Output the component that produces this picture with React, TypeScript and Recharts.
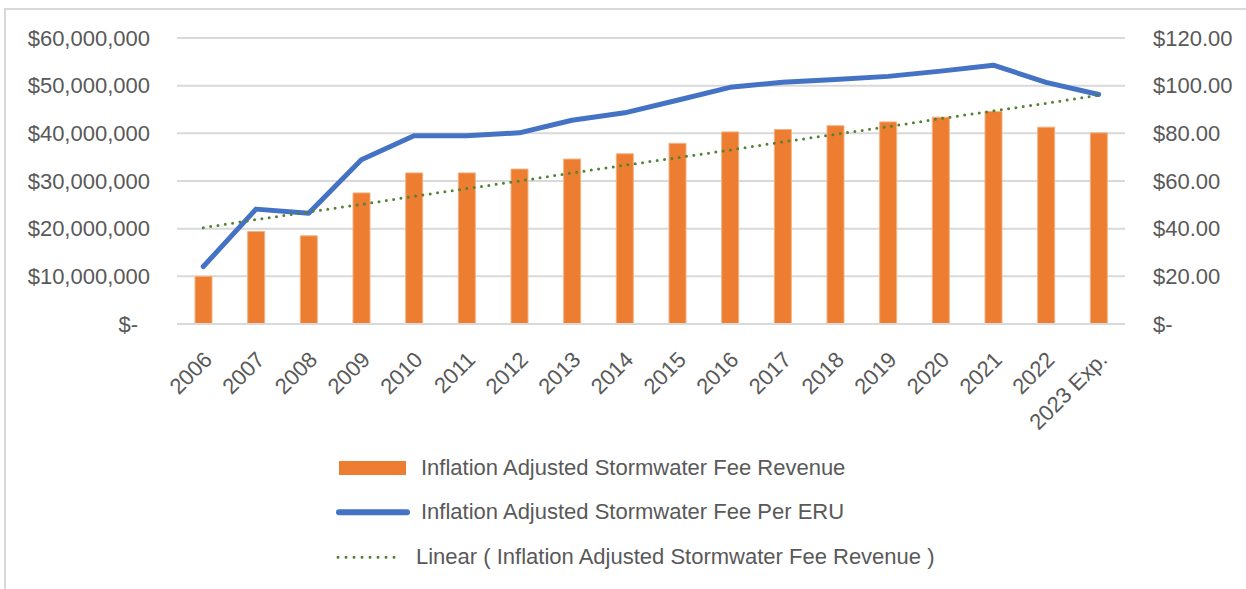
import React from 'react';
import { ComposedChart, Bar, Line, XAxis, YAxis, CartesianGrid, Legend } from 'recharts';

const years = ['2006', '2007', '2008', '2009', '2010', '2011', '2012', '2013', '2014', '2015', '2016', '2017', '2018', '2019', '2020', '2021', '2022', '2023 Exp.'];
const revenue = [10000000, 19400000, 18500000, 27500000, 31700000, 31700000, 32500000, 34600000, 35700000, 37900000, 40300000, 40800000, 41600000, 42400000, 43400000, 44600000, 41300000, 40100000];
const feePerEru = [24.1, 48.2, 46.5, 68.9, 79.0, 79.0, 80.2, 85.5, 88.6, 93.9, 99.3, 101.4, 102.6, 103.9, 106.1, 108.6, 101.4, 96.3];
const revenueTrend = [20200000, 21900000, 23500000, 25100000, 26800000, 28400000, 30000000, 31700000, 33300000, 34900000, 36500000, 38200000, 39800000, 41400000, 43100000, 44700000, 46300000, 48000000];
const leftTicks = [0, 10000000, 20000000, 30000000, 40000000, 50000000, 60000000];
const rightTicks = [0, 20, 40, 60, 80, 100, 120];

const seriesNames = {
  revenue: 'Inflation Adjusted Stormwater Fee Revenue',
  perEru: 'Inflation Adjusted Stormwater Fee Per ERU',
  trend: 'Linear ( Inflation Adjusted Stormwater Fee Revenue )',
};

const data = years.map((year, i) => ({
  year,
  revenue: revenue[i],
  perEru: feePerEru[i],
  trend: revenueTrend[i],
}));

const FONT = '"Liberation Sans", Arial, sans-serif';
const TEXT = '#595959';
const GRID = '#D9D9D9';
const ORANGE = '#ED7D31';
const BLUE = '#4472C4';
const GREEN = '#548235';

const LeftTick = (props: any) => {
  const { x, y, payload } = props;
  const v = payload.value as number;
  const label = v === 0 ? '$-' : '$' + v.toLocaleString('en-US');
  return (
    <text x={v === 0 ? x - 12 : x} y={y} dy="0.355em" textAnchor="end" fill={TEXT} fontSize={22} fontFamily={FONT}>
      {label}
    </text>
  );
};

const RightTick = (props: any) => {
  const { x, y, payload } = props;
  const v = payload.value as number;
  const label = v === 0 ? '$-' : '$' + v.toFixed(2);
  return (
    <text x={x} y={y} dy="0.355em" textAnchor="start" fill={TEXT} fontSize={22} fontFamily={FONT}>
      {label}
    </text>
  );
};

const XTick = (props: any) => {
  const { x, y, payload } = props;
  return (
    <g transform={`translate(${x + 10},${y + 35})`}>
      <text x={0} y={0} textAnchor="end" transform="rotate(-45)" fill={TEXT} fontSize={22} fontFamily={FONT}>
        {payload.value}
      </text>
    </g>
  );
};

const renderLegend = () => (
  <svg width={640} height={140} style={{ display: 'block' }}>
    <rect x={9} y={16} width={67} height={14} fill={ORANGE} />
    <text x={91} y={29.5} fill={TEXT} fontSize={22} fontFamily={FONT}>{seriesNames.revenue}</text>
    <line x1={9} y1={67.3} x2={77} y2={67.3} stroke={BLUE} strokeWidth={6} strokeLinecap="round" />
    <text x={91} y={74.3} fill={TEXT} fontSize={22} fontFamily={FONT}>{seriesNames.perEru}</text>
    <line x1={8} y1={112.3} x2={72} y2={112.3} stroke={GREEN} strokeWidth={3} strokeDasharray="0 8" strokeLinecap="round" />
    <text x={86} y={119.3} fill={TEXT} fontSize={22} fontFamily={FONT}>{seriesNames.trend}</text>
  </svg>
);

export default function App() {
  return (
    <div style={{ position: 'absolute', left: 0, top: 0, width: 1246, height: 589, overflow: 'hidden', background: '#fff' }}>
      <div style={{ position: 'absolute', left: 4, top: 8, width: 1300, height: 700, border: `2px solid ${GRID}`, boxSizing: 'border-box' }} />
      <div style={{ position: 'absolute', left: 0, top: 0 }}>
        <ComposedChart width={1246} height={589} data={data} margin={{ top: 38, right: 0, bottom: 165, left: 0 }}>
          <CartesianGrid yAxisId="left" vertical={false} stroke={GRID} strokeWidth={2} />
          <XAxis
            dataKey="year"
            height={100}
            interval={0}
            tickLine={false}
            tickSize={0}
            axisLine={{ stroke: GRID, strokeWidth: 2 }}
            tick={<XTick />}
          />
          <YAxis
            yAxisId="left"
            width={177}
            domain={[0, 60000000]}
            ticks={leftTicks}
            axisLine={false}
            tickLine={false}
            tickSize={0}
            tickMargin={27}
            tick={<LeftTick />}
          />
          <YAxis
            yAxisId="right"
            orientation="right"
            width={121}
            domain={[0, 120]}
            ticks={rightTicks}
            axisLine={false}
            tickLine={false}
            tickSize={0}
            tickMargin={28}
            tick={<RightTick />}
          />
          <Bar yAxisId="left" dataKey="revenue" name={seriesNames.revenue} fill={ORANGE} stroke="#F4B183" strokeWidth={1} barSize={17} isAnimationActive={false} />
          <Line yAxisId="right" dataKey="perEru" name={seriesNames.perEru} type="linear" stroke={BLUE} strokeWidth={5} strokeLinecap="round" strokeLinejoin="round" dot={false} activeDot={false} isAnimationActive={false} />
          <Line yAxisId="left" dataKey="trend" name={seriesNames.trend} type="linear" stroke={GREEN} strokeWidth={3} strokeDasharray="0 7.4" strokeLinecap="round" dot={false} activeDot={false} isAnimationActive={false} />
          <Legend
            layout="horizontal"
            verticalAlign="middle"
            align="center"
            content={renderLegend}
            wrapperStyle={{ top: 445, left: 330, width: 640, height: 140 }}
          />
        </ComposedChart>
      </div>
    </div>
  );
}
